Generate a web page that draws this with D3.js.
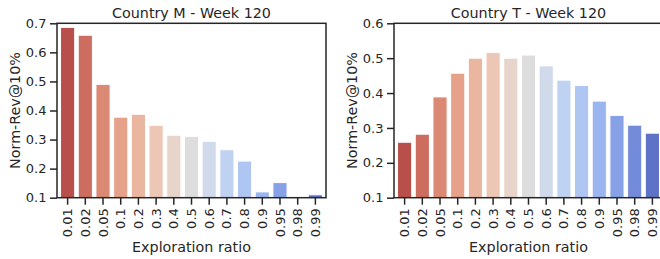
<!DOCTYPE html>
<html>
<head>
<meta charset="utf-8">
<script src="https://cdn.jsdelivr.net/npm/d3@7"></script>
<style>
  body { margin: 0; background: #fff; }
  svg text { font-family: "DejaVu Sans", sans-serif; fill: #262626; }
</style>
</head>
<body>
<script>
// exploration ratios on the x axis
const ratios = ["0.01", "0.02", "0.05", "0.1", "0.2", "0.3", "0.4", "0.5", "0.6", "0.7", "0.8", "0.9", "0.95", "0.98", "0.99"];

// Norm-Rev@10% per ratio
const countryM = [0.686, 0.659, 0.490, 0.377, 0.387, 0.349, 0.315, 0.311, 0.294, 0.265, 0.226, 0.120, 0.152, 0.100, 0.110];
const countryT = [0.259, 0.282, 0.389, 0.457, 0.500, 0.516, 0.500, 0.509, 0.478, 0.437, 0.422, 0.377, 0.336, 0.308, 0.285];

const ticksM = [0.1, 0.2, 0.3, 0.4, 0.5, 0.6, 0.7];
const ticksT = [0.1, 0.2, 0.3, 0.4, 0.5, 0.6];

const titles = ["Country M - Week 120", "Country T - Week 120"];

// coolwarm samples, red first, then desaturated like seaborn
const coolwarm = ["#cb3e38", "#de604d", "#ec7f63", "#f49a7b", "#f7b194", "#f5c4ad", "#ecd3c5", "#dddddd",
                  "#ccd9ee", "#b8d0f9", "#a3c2ff", "#8db0fe", "#779af7", "#6282ea", "#4d68d7"];
const palette = coolwarm.map(c => { const h = d3.hsl(c); h.s *= 0.75; return h.formatHex(); });

const W = 660, H = 259;
const yTop = 23.3, yBottom = 197.7;
const ink = "#262626";

const svg = d3.select("body").append("svg")
    .attr("width", W)
    .attr("height", H);

const panels = [
  { title: titles[0], values: countryM, ticks: ticksM, x0: 57, x1: 326 },
  { title: titles[1], values: countryT, ticks: ticksT, x0: 394, x1: 663 }
];

panels.forEach((p, pi) => {
  const x = d3.scaleBand().domain(ratios).range([p.x0, p.x1]).padding(0.2);
  const y = d3.scaleLinear().domain([p.ticks[0], p.ticks[p.ticks.length - 1]]).range([yBottom, yTop]);
  const base = y.domain()[0];

  const g = svg.append("g");

  g.append("clipPath").attr("id", "clip" + pi)
    .append("rect")
    .attr("x", p.x0).attr("y", yTop)
    .attr("width", p.x1 - p.x0).attr("height", yBottom - yTop);

  g.append("g")
    .attr("clip-path", "url(#clip" + pi + ")")
    .selectAll("rect")
    .data(p.values)
    .enter()
    .append("rect")
    .attr("x", (d, i) => x(ratios[i]))
    .attr("width", x.bandwidth())
    .attr("y", d => y(Math.max(d, base)))
    .attr("height", d => y(base) - y(Math.max(d, base)))
    .attr("fill", (d, i) => palette[i])
    .attr("stroke", "#fff")
    .attr("stroke-width", 1);

  // y axis
  const ya = g.append("g")
    .attr("transform", "translate(" + p.x0 + ",0)")
    .call(d3.axisLeft(y).tickValues(p.ticks).tickFormat(d3.format(".1f")).tickSize(7).tickPadding(3.5));
  ya.select(".domain").remove();
  ya.selectAll("line").attr("stroke", ink).attr("stroke-width", 1.5);
  ya.selectAll("text").style("font-size", "13px").attr("fill", ink);

  // x axis, labels turned
  const xa = g.append("g")
    .attr("transform", "translate(0," + yBottom + ")")
    .call(d3.axisBottom(x).tickSize(7));
  xa.select(".domain").remove();
  xa.selectAll("line").attr("stroke", ink).attr("stroke-width", 1.5);
  xa.selectAll("text")
    .style("font-size", "13px")
    .attr("fill", ink)
    .attr("transform", "rotate(-90)")
    .attr("x", -10.5)
    .attr("y", 0)
    .attr("dy", "0.35em")
    .attr("text-anchor", "end");

  // frame
  g.append("rect")
    .attr("x", p.x0).attr("y", yTop)
    .attr("width", p.x1 - p.x0).attr("height", yBottom - yTop)
    .attr("fill", "none")
    .attr("stroke", ink)
    .attr("stroke-width", 1.5);

  g.append("text")
    .attr("x", (p.x0 + p.x1) / 2)
    .attr("y", 18)
    .attr("text-anchor", "middle")
    .style("font-size", "14.3px")
    .text(p.title);

  g.append("text")
    .attr("x", (p.x0 + p.x1) / 2)
    .attr("y", 252)
    .attr("text-anchor", "middle")
    .style("font-size", "14.3px")
    .text("Exploration ratio");

  g.append("text")
    .attr("transform", "translate(" + (p.x0 - 42) + "," + ((yTop + yBottom) / 2) + ") rotate(-90)")
    .attr("text-anchor", "middle")
    .attr("dy", "0.35em")
    .style("font-size", "14.3px")
    .text("Norm-Rev@10%");
});
</script>
</body>
</html>
